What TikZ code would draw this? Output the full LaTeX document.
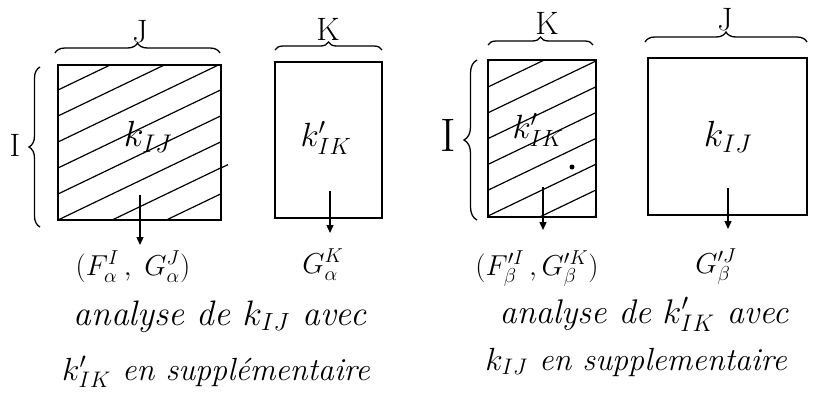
\RequirePackage{fix-cm}
\documentclass[tikz,border=0pt]{standalone}
\usepackage{fontspec}
\usetikzlibrary{decorations.pathreplacing,arrows.meta}
\begin{document}
\begin{tikzpicture}[x=1pt,y=-1pt,
  mat/.style={draw, line width=2.6pt, inner sep=0pt, outer sep=0pt, anchor=north west},
  hatch/.style={line width=1.2pt},
  brc/.style={decorate, decoration={brace, amplitude=#1}, line width=1.3pt},
  arr/.style={line width=1.3pt, -{Triangle[width=7pt,length=8pt]}},
  lab/.style={font=\fontsize{27}{30}\selectfont, inner sep=0pt, scale=1.2},
  cell/.style={font=\fontsize{28}{32}\selectfont, inner sep=0pt},
  fac/.style={font=\fontsize{24}{28}\selectfont, inner sep=0pt, anchor=base, scale=1.2},
  cur/.style={font=\fontsize{30}{36}\selectfont\itshape, inner sep=0pt, anchor=base},
]
\useasboundingbox (0,0) rectangle (813,400);

% hatching of the first table
\begin{scope}
  \clip (58,65) rectangle (221,220);
  \foreach \i in {-3,...,6} \draw[hatch] (58,220-26*\i) -- ++(400,-192);
\end{scope}
\draw[hatch] (221,168) -- (228,164.6);
% hatching of the third table
\begin{scope}
  \clip (488,60) rectangle (596,217);
  \foreach \i in {-3,...,6} \draw[hatch] (488,216-25.8*\i) -- ++(400,-192);
\end{scope}

% tables
\node[mat, minimum width=163pt, minimum height=155pt] (A) at (58,65) {};
\node[mat, minimum width=107pt, minimum height=156pt] (B) at (275,62) {};
\node[mat, minimum width=108pt, minimum height=157pt] (C) at (488,60) {};
\node[mat, minimum width=159pt, minimum height=157pt] (D) at (648,58) {};

% braces
\draw[brc=10pt] (55,53) -- (220,53);
\draw[brc=8pt] (275,50) -- (382,50);
\draw[brc=11pt] (40,227) -- (40,67);
\draw[brc=8pt] (488,45) -- (593,45);
\draw[brc=10pt] (645,42) -- (807,42);
\draw[brc=13pt] (477,220) -- (477,60);

% brace labels
\node[lab] (lJ1) at (140,32) {J};
\node[lab] (lK1) at (328,29) {K};
\node[lab] (lI1) at (15,145) {I};
\node[lab] (lK2) at (547,23) {K};
\node[lab] (lJ2) at (725,20) {J};
\node[lab, scale=1.45] (lI2) at (448,135) {I};

% cell texts
\node[cell, scale=1.3] (tA) at (148,137) {$k_{IJ}$};
\node[cell, scale=1.2] (tB) at (326,138) {$k'_{IK}$};
\node[cell, scale=1.2] (tC) at (538,130) {$k'_{IK}$};
\node[cell, scale=1.3] (tD) at (728,137) {$k_{IJ}$};
\node[circle, fill, inner sep=0pt, minimum size=5pt] (dot) at (572,167) {};

% factors
\node[fac] (fA) at (133,275) {$(F^{I}_{\alpha}\,,\; G^{J}_{\alpha})$};
\node[fac] (fB) at (323,273) {$G^{K}_{\alpha}$};
\node[fac] (fC) at (537,275) {$(F'^{I}_{\beta}\,, G'^{K}_{\beta})$};
\node[fac] (fD) at (716,273) {$G'^{J}_{\beta}$};

% arrows
\coordinate (a1s) at (140,195); \coordinate (a1e) at (140,245);
\coordinate (a2s) at (330,191); \coordinate (a2e) at (330,233);
\coordinate (a3s) at (543,187); \coordinate (a3e) at (543,230);
\coordinate (a4s) at (728,188); \coordinate (a4e) at (728,229);
\draw[arr] (a1s) -- (a1e);
\draw[arr] (a2s) -- (a2e);
\draw[arr] (a3s) -- (a3e);
\draw[arr] (a4s) -- (a4e);

% captions
\node[cur, scale=1.18] (c1) at (220,325) {analyse de $k_{IJ}$ avec};
\node[cur, scale=1.07] (c2) at (216,380) {$k'_{IK}$ en supplémentaire};
\node[cur, scale=1.14] (c3) at (644,323) {analyse de $k'_{IK}$ avec};
\node[cur, scale=1.07] (c4) at (636,370) {$k_{IJ}$ en supplementaire};
\end{tikzpicture}
\end{document}
